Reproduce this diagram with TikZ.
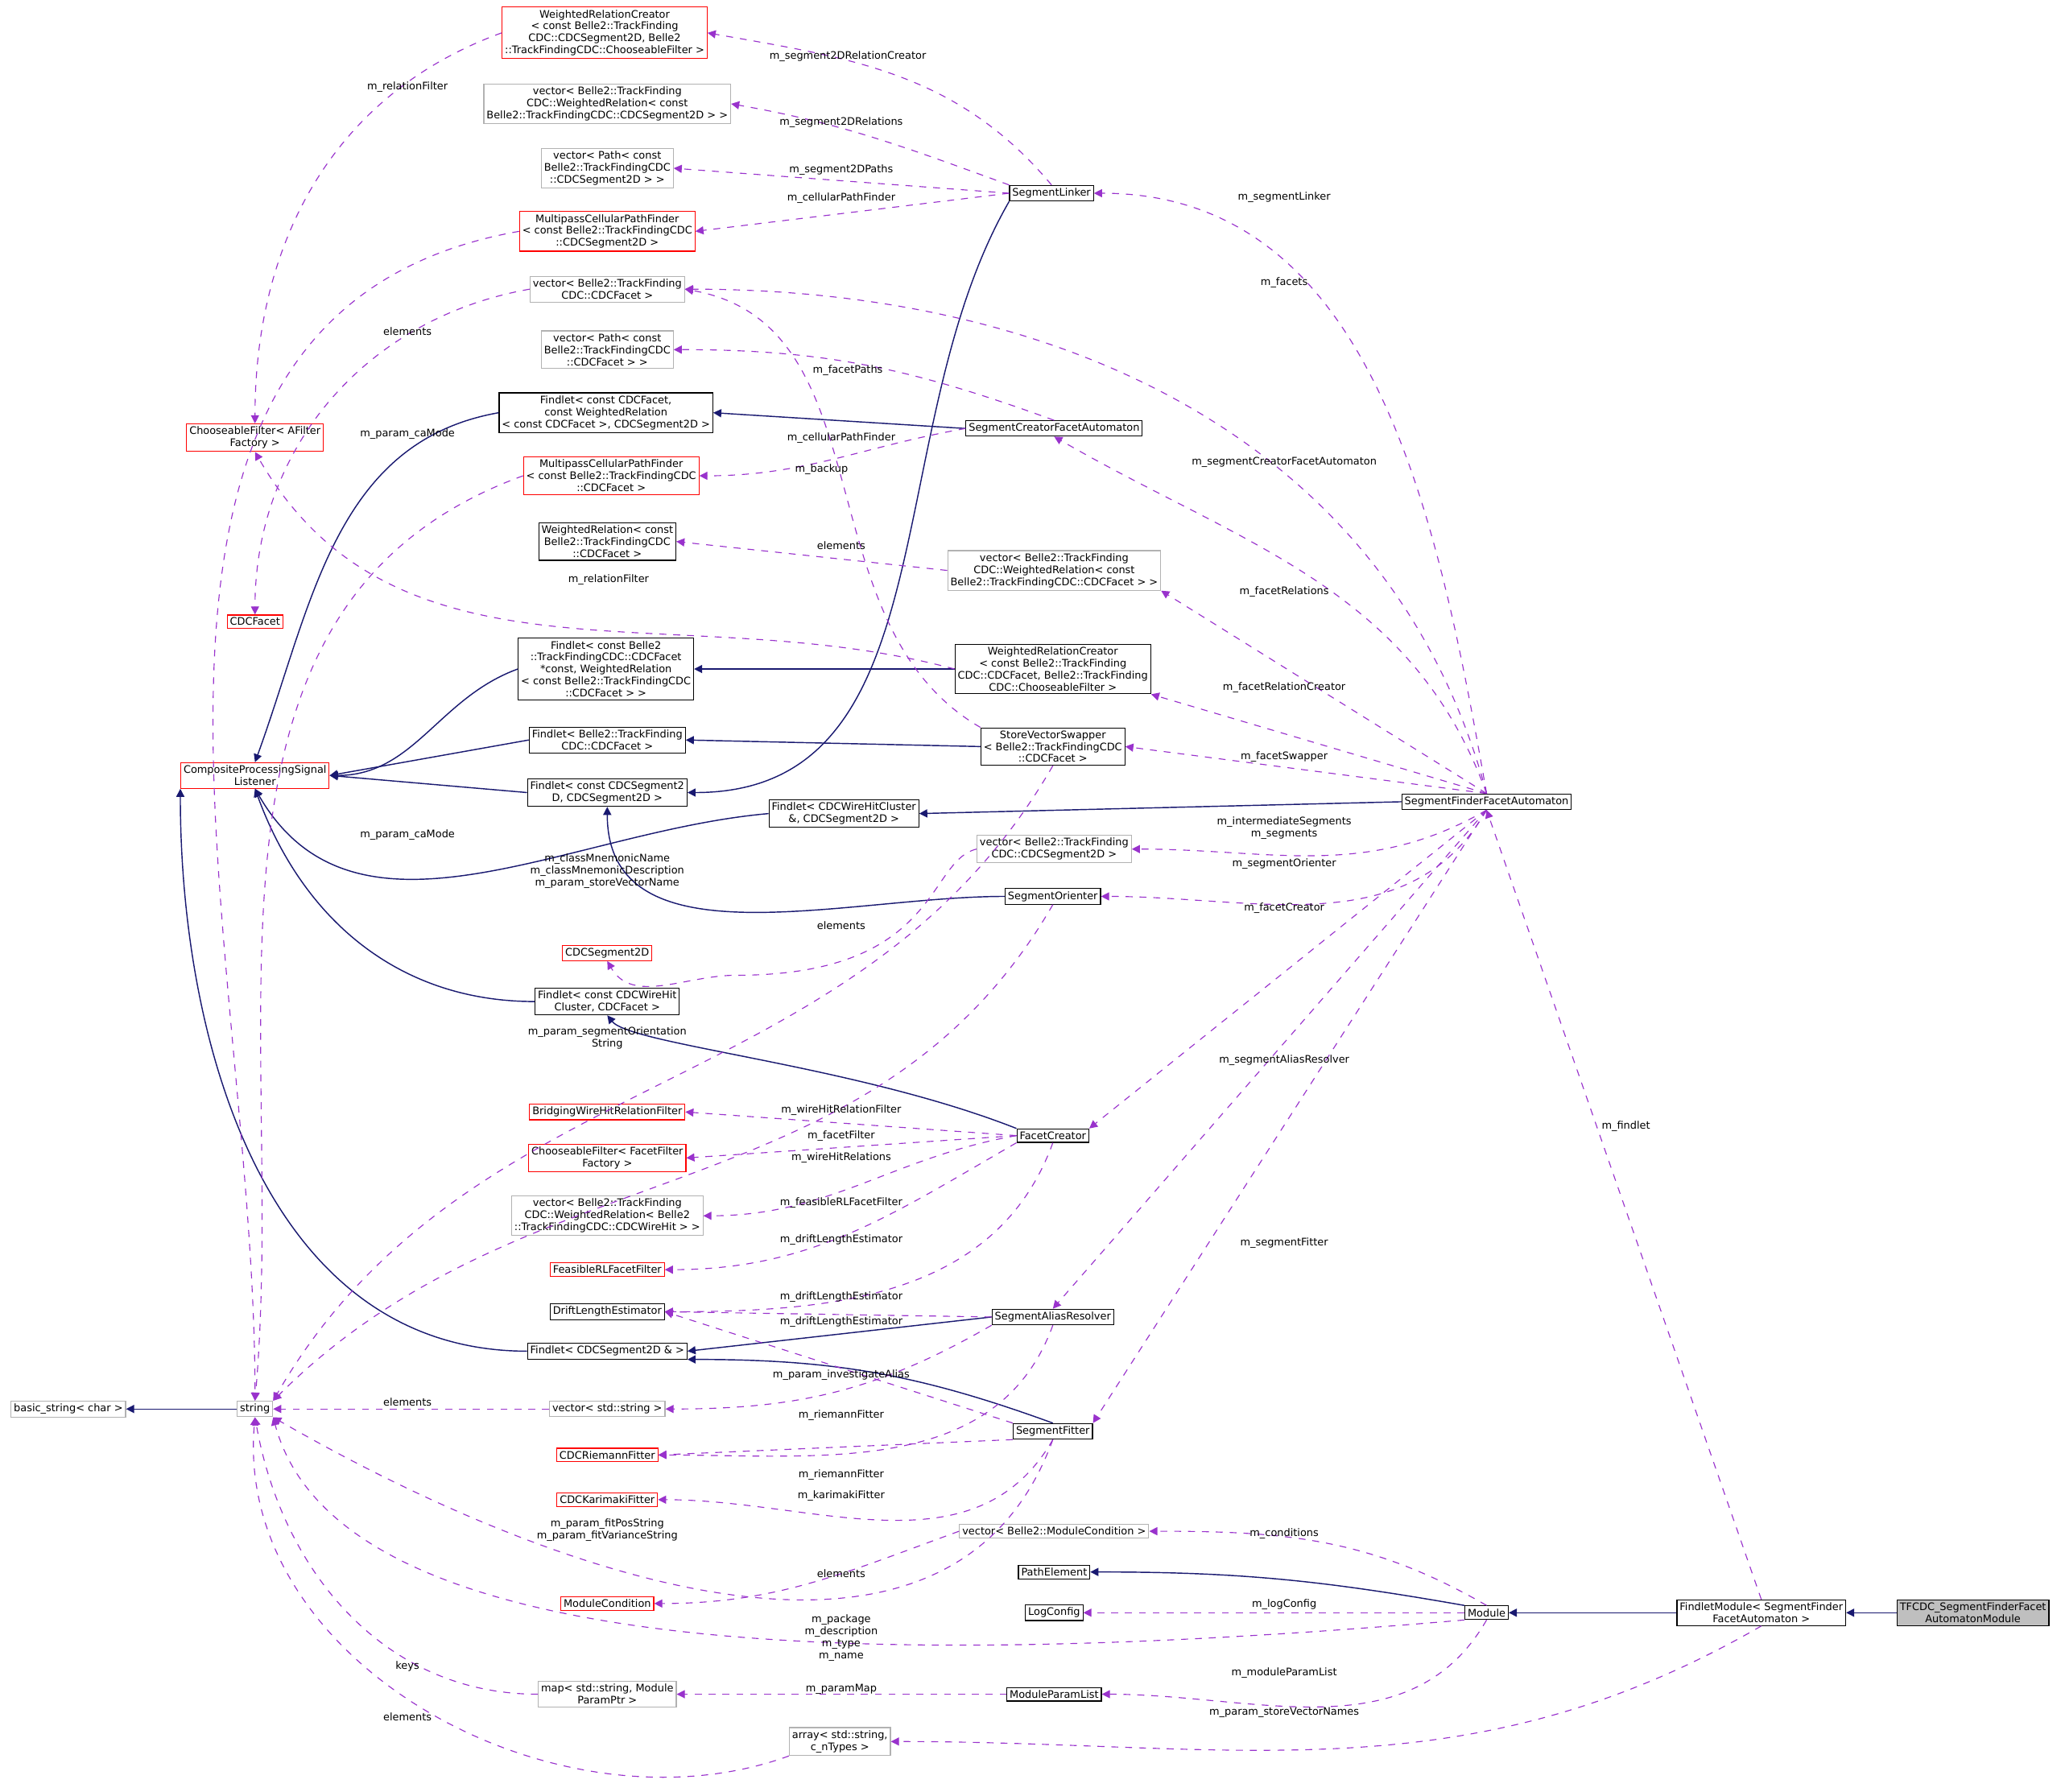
\documentclass[tikz,border=0pt]{standalone}
\usepackage{fontspec}
\setmainfont{DejaVu Sans}
\usetikzlibrary{arrows.meta}
\definecolor{edgeuse}{RGB}{153,50,204}
\definecolor{edgeinh}{RGB}{25,25,112}
\tikzset{
  cls/.style={draw=black, line width=0.4pt, fill=white, inner sep=1.2pt, align=center, font=\fontsize{4.5}{5.2}\selectfont},
  clsred/.style={cls, draw=red},
  clsgray/.style={cls, draw=black!30},
  clsmain/.style={cls, fill=black!25},
  inh/.style={draw=edgeinh, line width=0.5pt, -{Triangle[length=3.5pt,width=3.5pt]}},
  use/.style={draw=edgeuse, line width=0.4pt, dashed, -{Triangle[length=3.5pt,width=3.5pt]}},
  lbl/.style={align=center, inner sep=0pt, font=\fontsize{4.5}{5.2}\selectfont}
}
\begin{document}
\begin{tikzpicture}[x=0.02cm, y=-0.02cm]
\useasboundingbox (0,0) rectangle (1568,1363);
% left column
\node[clsred] (wrcseg) at (460,25) {WeightedRelationCreator\\< const Belle2::TrackFinding\\CDC::CDCSegment2D, Belle2\\::TrackFindingCDC::ChooseableFilter >};
\node[clsgray] (vecwrseg) at (462,79) {vector< Belle2::TrackFinding\\CDC::WeightedRelation< const\\ Belle2::TrackFindingCDC::CDCSegment2D > >};
\node[clsgray] (vecpathseg) at (462,128) {vector< Path< const\\ Belle2::TrackFindingCDC\\::CDCSegment2D > >};
\node[clsred] (mcpfseg) at (462,176) {MultipassCellularPathFinder\\< const Belle2::TrackFindingCDC\\::CDCSegment2D >};
\node[clsgray] (vecfacet) at (462,220) {vector< Belle2::TrackFinding\\CDC::CDCFacet >};
\node[clsgray] (vecpathfacet) at (462,266) {vector< Path< const\\ Belle2::TrackFindingCDC\\::CDCFacet > >};
\node[cls] (findletwr) at (461,314) {Findlet< const CDCFacet,\\ const WeightedRelation\\< const CDCFacet >, CDCSegment2D >};
\node[clsred] (mcpffacet) at (465,362) {MultipassCellularPathFinder\\< const Belle2::TrackFindingCDC\\::CDCFacet >};
\node[cls] (wrfacet) at (462,412) {WeightedRelation< const\\ Belle2::TrackFindingCDC\\::CDCFacet >};
\node[cls] (findletbig) at (461,509) {Findlet< const Belle2\\::TrackFindingCDC::CDCFacet\\ *const, WeightedRelation\\< const Belle2::TrackFindingCDC\\::CDCFacet > >};
\node[cls] (findletfacet) at (462,563) {Findlet< Belle2::TrackFinding\\CDC::CDCFacet >};
\node[cls] (findletseg) at (462,603) {Findlet< const CDCSegment2\\D, CDCSegment2D >};
\node[cls] (findletwhc) at (642,619) {Findlet< CDCWireHitCluster\\\&, CDCSegment2D >};
\node[clsgray] (vecseg) at (802,646) {vector< Belle2::TrackFinding\\CDC::CDCSegment2D >};
\node[clsred] (cdcseg) at (462,725) {CDCSegment2D};
\node[cls] (findletwh) at (462,762) {Findlet< const CDCWireHit\\Cluster, CDCFacet >};
\node[clsred] (bwhrf) at (462,846) {BridgingWireHitRelationFilter};
\node[clsred] (cffacet) at (462,881) {ChooseableFilter< FacetFilter\\ Factory >};
\node[clsgray] (vecwrwh) at (462,925) {vector< Belle2::TrackFinding\\CDC::WeightedRelation< Belle2\\::TrackFindingCDC::CDCWireHit > >};
\node[clsred] (frlf) at (462,966) {FeasibleRLFacetFilter};
\node[cls] (dle) at (462,998) {DriftLengthEstimator};
\node[cls] (findletref) at (462,1028) {Findlet< CDCSegment2D \& >};
\node[clsgray] (vecstr) at (462,1072) {vector< std::string >};
\node[clsred] (riemann) at (462,1107) {CDCRiemannFitter};
\node[clsred] (karimaki) at (462,1141) {CDCKarimakiFitter};
\node[clsred] (modcond) at (462,1220) {ModuleCondition};
\node[clsgray] (mapstr) at (462,1289) {map< std::string, Module\\ParamPtr >};
\node[clsgray] (arrstr) at (639,1325) {array< std::string,\\ c\_nTypes >};
% right columns
\node[cls] (linker) at (800,147) {SegmentLinker};
\node[cls] (scfa) at (802,326) {SegmentCreatorFacetAutomaton};
\node[clsgray] (vecwrfacet) at (802,434) {vector< Belle2::TrackFinding\\CDC::WeightedRelation< const\\ Belle2::TrackFindingCDC::CDCFacet > >};
\node[cls] (wrcfacet) at (801,509) {WeightedRelationCreator\\< const Belle2::TrackFinding\\CDC::CDCFacet, Belle2::TrackFinding\\CDC::ChooseableFilter >};
\node[cls] (swapper) at (801,568) {StoreVectorSwapper\\< Belle2::TrackFindingCDC\\::CDCFacet >};
\node[cls] (orienter) at (801,682) {SegmentOrienter};
\node[cls] (facetcr) at (801,864) {FacetCreator};
\node[cls] (alias) at (801,1002) {SegmentAliasResolver};
\node[cls] (fitter) at (801,1089) {SegmentFitter};
\node[clsgray] (vecmodcond) at (802,1165) {vector< Belle2::ModuleCondition >};
\node[cls] (pathel) at (802,1196) {PathElement};
\node[cls] (logcfg) at (802,1227) {LogConfig};
\node[cls] (mparam) at (802,1289) {ModuleParamList};
\node[cls] (sffa) at (1131,610) {SegmentFinderFacetAutomaton};
\node[cls] (module) at (1131,1227) {Module};
\node[cls] (fmodule) at (1340,1227) {FindletModule< SegmentFinder\\FacetAutomaton >};
\node[clsmain] (tfcdc) at (1501,1227) {TFCDC\_SegmentFinderFacet\\AutomatonModule};
% far left
\node[clsred] (cfa) at (194,333) {ChooseableFilter< AFilter\\ Factory >};
\node[clsred] (cdcfacet) at (194,473) {CDCFacet};
\node[clsred] (cpsl) at (194,590) {CompositeProcessingSignal\\Listener};
\node[clsgray] (string) at (194,1072) {string};
\node[clsgray] (bstring) at (52,1072) {basic\_string< char >};

% inheritance
\draw[inh] (linker.south west) to[out=240,in=0] (findletseg.east);
\draw[inh] (scfa.west) -- (findletwr.east);
\draw[inh] (wrcfacet.west) -- (findletbig.east);
\draw[inh] (swapper.west) -- (findletfacet.east);
\draw[inh] (sffa.west) -- (findletwhc.east);
\draw[inh] (orienter.west) to[out=180,in=-90] (findletseg.south);
\draw[inh] (facetcr.north west) .. controls (650,810) and (480,795) .. (findletwh.south);
\draw[inh] (alias.west) -- (findletref.east);
\draw[inh] (fitter.north) to[out=160,in=0] (findletref.south east);
\draw[inh] (findletwr.west) to[out=190,in=70] (cpsl.north);
\draw[inh] (findletbig.west) to[out=200,in=0] (cpsl.east);
\draw[inh] (findletfacet.west) -- (cpsl.east);
\draw[inh] (findletseg.west) -- (cpsl.east);
\draw[inh] (findletwhc.west) to[out=185,in=-60] (cpsl.south);
\draw[inh] (findletwh.west) to[out=180,in=-70] (cpsl.south);
\draw[inh] (findletref.west) to[out=180,in=-90] (cpsl.south west);
\draw[inh] (string.west) -- (bstring.east);
\draw[inh] (module.north west) to[out=170,in=0] (pathel.east);
\draw[inh] (fmodule.west) -- (module.east);
\draw[inh] (tfcdc.west) -- (fmodule.east);

% usage
\draw[use] (linker.north) to[out=130,in=-10] (wrcseg.east);
\draw[use] (linker.north west) to[out=160,in=-10] (vecwrseg.east);
\draw[use] (linker.west) -- (vecpathseg.east);
\draw[use] (linker.west) -- (mcpfseg.east);
\draw[use] (wrcseg.west) to[out=200,in=90] (cfa.north);
\draw[use] (vecfacet.west) to[out=190,in=90] (cdcfacet.north);
\draw[use] (mcpfseg.west) to[out=190,in=90] (string.north);
\draw[use] (mcpffacet.west) to[out=200,in=85] (string.north);
\draw[use] (sffa.north) to[out=100,in=0] (linker.east);
\draw[use] (sffa.north) to[out=105,in=0] (vecfacet.east);
\draw[use] (scfa.north) to[out=160,in=0] (vecpathfacet.east);
\draw[use] (scfa.west) to[out=190,in=0] (mcpffacet.east);
\draw[use] (swapper.north west) to[out=150,in=-10] (vecfacet.east);
\draw[use] (vecwrfacet.west) -- (wrfacet.east);
\draw[use] (wrcfacet.west) to[out=165,in=-60] (cfa.south);
\draw[use] (sffa.north) to[out=110,in=-30] (scfa.south);
\draw[use] (sffa.north) -- (vecwrfacet.south east);
\draw[use] (sffa.north) -- (wrcfacet.south east);
\draw[use] (sffa.north) -- (swapper.east);
\draw[use] (sffa.south) to[out=-150,in=0] (vecseg.east);
\draw[use] (sffa.south) to[out=-120,in=0] (orienter.east);
\draw[use] (sffa.south) -- (facetcr.north east);
\draw[use] (sffa.south) -- (alias.north);
\draw[use] (sffa.south) -- (fitter.north east);
\draw[use] (fmodule.north) -- (sffa.south);
\draw[use] (swapper.south) to[out=-120,in=60] (string.north east);
\draw[use] (vecseg.west) .. controls (705,655) and (715,742) .. (560,742) to[out=180,in=-60] (cdcseg.south);
\draw[use] (orienter.south) to[out=-120,in=45] (string.north east);
\draw[use] (facetcr.west) -- (bwhrf.east);
\draw[use] (facetcr.west) -- (cffacet.east);
\draw[use] (facetcr.west) to[out=190,in=0] (vecwrwh.east);
\draw[use] (facetcr.south west) to[out=210,in=0] (frlf.east);
\draw[use] (facetcr.south) to[out=-110,in=0] (dle.east);
\draw[use] (alias.west) -- (dle.east);
\draw[use] (fitter.north west) -- (dle.east);
\draw[use] (alias.south west) to[out=210,in=0] (vecstr.east);
\draw[use] (alias.south) to[out=-110,in=0] (riemann.east);
\draw[use] (fitter.south west) -- (riemann.east);
\draw[use] (fitter.south) to[out=-120,in=0] (karimaki.east);
\draw[use] (fitter.south) to[out=-110,in=-30] (string.south east);
\draw[use] (vecstr.west) -- (string.east);
\draw[use] (module.north) to[out=150,in=0] (vecmodcond.east);
\draw[use] (vecmodcond.west) to[out=200,in=0] (modcond.east);
\draw[use] (module.west) -- (logcfg.east);
\draw[use] (module.south west) .. controls (700,1268) and (260,1272) .. (string.south east);
\draw[use] (module.south) to[out=-120,in=0] (mparam.east);
\draw[use] (mparam.west) -- (mapstr.east);
\draw[use] (mapstr.west) to[out=180,in=-80] (string.south);
\draw[use] (fmodule.south) to[out=-150,in=0] (arrstr.east);
\draw[use] (arrstr.south west) to[out=200,in=-95] (string.south);

% labels
\node[lbl] at (645,43) {m\_segment2DRelationCreator};
\node[lbl] at (640,93) {m\_segment2DRelations};
\node[lbl] at (640,129) {m\_segment2DPaths};
\node[lbl] at (640,151) {m\_cellularPathFinder};
\node[lbl] at (310,66) {m\_relationFilter};
\node[lbl] at (310,252) {elements};
\node[lbl] at (310,330) {m\_param\_caMode};
\node[lbl] at (977,150) {m\_segmentLinker};
\node[lbl] at (977,215) {m\_facets};
\node[lbl] at (645,282) {m\_facetPaths};
\node[lbl] at (640,333) {m\_cellularPathFinder};
\node[lbl] at (625,357) {m\_backup};
\node[lbl] at (640,415) {elements};
\node[lbl] at (463,441) {m\_relationFilter};
\node[lbl] at (977,352) {m\_segmentCreatorFacetAutomaton};
\node[lbl] at (977,450) {m\_facetRelations};
\node[lbl] at (977,523) {m\_facetRelationCreator};
\node[lbl] at (977,576) {m\_facetSwapper};
\node[lbl] at (310,635) {m\_param\_caMode};
\node[lbl] at (977,630) {m\_intermediateSegments\\m\_segments};
\node[lbl] at (977,657) {m\_segmentOrienter};
\node[lbl] at (462,663) {m\_classMnemonicName\\m\_classMnemonicDescription\\m\_param\_storeVectorName};
\node[lbl] at (977,691) {m\_facetCreator};
\node[lbl] at (640,704) {elements};
\node[lbl] at (462,790) {m\_param\_segmentOrientation\\String};
\node[lbl] at (977,807) {m\_segmentAliasResolver};
\node[lbl] at (640,845) {m\_wireHitRelationFilter};
\node[lbl] at (640,864) {m\_facetFilter};
\node[lbl] at (640,881) {m\_wireHitRelations};
\node[lbl] at (640,915) {m\_feasibleRLFacetFilter};
\node[lbl] at (640,943) {m\_driftLengthEstimator};
\node[lbl] at (977,946) {m\_segmentFitter};
\node[lbl] at (640,987) {m\_driftLengthEstimator};
\node[lbl] at (640,1006) {m\_driftLengthEstimator};
\node[lbl] at (640,1046) {m\_param\_investigateAlias};
\node[lbl] at (310,1067) {elements};
\node[lbl] at (640,1077) {m\_riemannFitter};
\node[lbl] at (640,1122) {m\_riemannFitter};
\node[lbl] at (640,1138) {m\_karimakiFitter};
\node[lbl] at (462,1164) {m\_param\_fitPosString\\m\_param\_fitVarianceString};
\node[lbl] at (977,1167) {m\_conditions};
\node[lbl] at (640,1197) {elements};
\node[lbl] at (977,1221) {m\_logConfig};
\node[lbl] at (640,1246) {m\_package\\m\_description\\m\_type\\m\_name};
\node[lbl] at (310,1268) {keys};
\node[lbl] at (977,1273) {m\_moduleParamList};
\node[lbl] at (640,1285) {m\_paramMap};
\node[lbl] at (977,1303) {m\_param\_storeVectorNames};
\node[lbl] at (310,1306) {elements};
\node[lbl] at (1237,857) {m\_findlet};
\end{tikzpicture}
\end{document}
